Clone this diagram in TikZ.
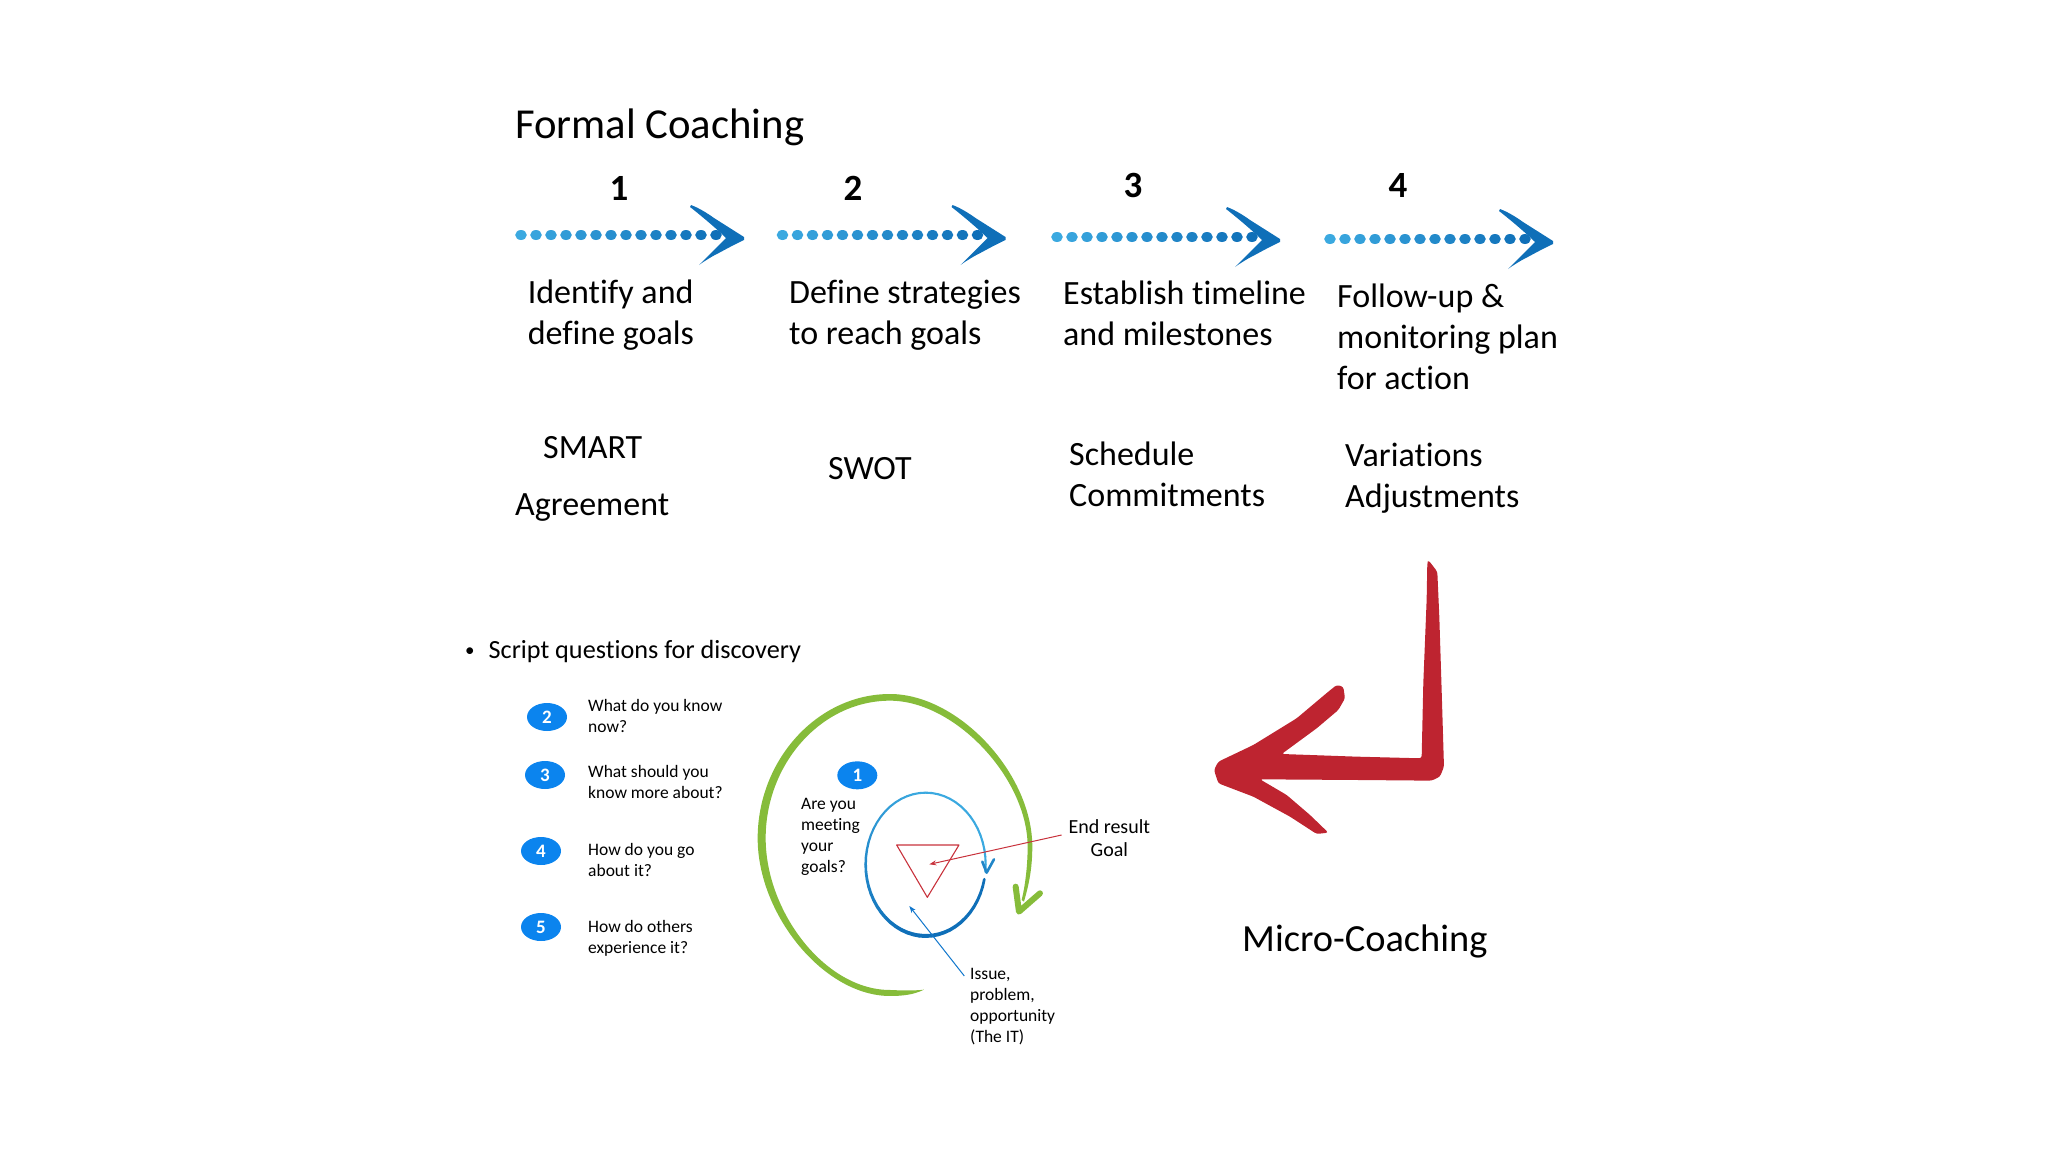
\documentclass[tikz,border=0pt]{standalone}
\usepackage{fontspec}
\setmainfont[Ligatures=NoCommon]{Carlito}
\usetikzlibrary{arrows.meta,shapes.geometric}
\definecolor{dotlight}{HTML}{3BA9E0}
\definecolor{dotdark}{HTML}{0F6FB8}
\definecolor{badge}{HTML}{0B84EE}
\definecolor{spiral}{HTML}{86BC3A}
\definecolor{bigred}{HTML}{BE2430}
\definecolor{thinred}{HTML}{C8323C}
\definecolor{thinblue}{HTML}{1277CC}
\tikzset{
  big/.style={anchor=base west,inner sep=0pt,align=left,font=\fontsize{34}{41}\selectfont},
  title/.style={anchor=base west,inner sep=0pt,font=\fontsize{42.7}{48}\selectfont},
  microtitle/.style={anchor=base west,inner sep=0pt,font=\fontsize{38.4}{48}\selectfont},
  stepnum/.style={anchor=base,inner sep=0pt,font=\fontsize{37}{44}\selectfont\bfseries},
  small/.style={anchor=base west,inner sep=0pt,align=left,font=\fontsize{17.5}{20.9}\selectfont},
  badgeshape/.style={ellipse,fill=badge,text=white,inner sep=0pt,minimum width=40pt,minimum height=28pt,font=\fontsize{19}{20}\selectfont\bfseries},
  flow/.pic={
    \foreach \i in {0,...,13}{
      \pgfmathsetmacro{\m}{100-\i*100/13}
      \fill[dotlight!\m!dotdark] (\i*15,0) ellipse (5.8 and 5);
    }
    \fill[dotdark] (170,-30) .. controls (178,-27) and (186,-22) .. (193,-17)
      -- (223,2) -- (223,5) .. controls (212,10) and (200,17) .. (192,21)
      .. controls (187,24) and (182,27) .. (178,30)
      .. controls (184,24) and (195,13) .. (205,3)
      .. controls (199,-3) and (192,-9) .. (185,-15)
      .. controls (179,-20) and (173,-25) .. (169,-28) -- cycle;
  }
}
\begin{document}
\begin{tikzpicture}[x=1pt,y=-1pt]
\useasboundingbox (0,0) rectangle (2048,1152);
% top row
\node[title] (heading) at (515,138) {Formal Coaching};
\node[stepnum] (n1) at (619,200.5) {1};
\node[stepnum] (n2) at (853,200) {2};
\node[stepnum] (n3) at (1133,197) {3};
\node[stepnum] (n4) at (1398,197) {4};
\pic at (521,235) {flow};
\pic at (782.5,235) {flow};
\pic at (1057,237) {flow};
\pic at (1330,239) {flow};
\node[big] (t1) at (527.6,344) {Identify and\\define goals};
\node[big] (t2) at (789,344) {Define strategies\\to reach goals};
\node[big] (t3) at (1063,345.5) {Establish timeline\\and milestones};
\node[big] (t4) at (1337,389.5) {Follow-up \&\\monitoring plan\\for action};
\node[big] (smart) at (543,458) {SMART};
\node[big] (agree) at (515,515) {Agreement};
\node[big] (swot) at (828,479.5) {SWOT};
\node[big] (sched) at (1069,506.5) {Schedule\\Commitments};
\node[big] (vari) at (1345,507.5) {Variations\\Adjustments};
% big red arrow
\begin{scope}[shift={(1190,550)},x=.3333pt,y=-.3333pt]
\fill[bigred,rounded corners=2.5pt] (715,30) -- (742,65) -- (748,200) -- (755,420) -- (762,650) -- (750,680) -- (725,692)
  -- (500,690) -- (210,688) -- (290,735) -- (360,795) -- (415,848) -- (380,852) -- (300,800) -- (190,740)
  -- (85,700) -- (72,660) -- (85,635) -- (190,585) -- (320,505) -- (415,425) -- (440,405) -- (460,410)
  -- (465,445) -- (445,480) -- (380,535) -- (275,612) -- (500,620) -- (695,625) -- (700,400) -- (710,150) -- (712,40) -- cycle;
\end{scope}
\node[microtitle] (micro) at (1242,951.5) {Micro-Coaching};
\node[anchor=base west,inner sep=0pt,font=\fontsize{26.2}{30}\selectfont] (script) at (465,658) {\raisebox{1.5pt}{\fontsize{19}{20}\selectfont •}\hspace{14pt}Script questions for discovery};
% list
\node[badgeshape] (b2) at (547,717) {2};
\node[badgeshape] (b3) at (545,775) {3};
\node[badgeshape] (b4) at (541,851) {4};
\node[badgeshape] (b5) at (541,927) {5};
\node[small] (q2) at (588,732) {What do you know\\now?};
\node[small] (q3) at (588,798) {What should you\\know more about?};
\node[small] (q4) at (588,876) {How do you go\\about it?};
\node[small] (q5) at (588,953.5) {How do others\\experience it?};
% spiral
\begin{scope}[shift={(720,680)},x=.3333pt,y=-.3333pt]
\fill[spiral] (612,929) .. controls (580,945) and (545,948) .. (510,948)
  .. controls (312,948) and (113,704) .. (113,475)
  .. controls (113,240) and (292,42) .. (510,42)
  .. controls (715,42) and (937,280) .. (937,500)
  .. controls (937,570) and (925,620) .. (912,665)
  -- (905,660) .. controls (915,620) and (923,560) .. (923,500)
  .. controls (923,295) and (705,62) .. (510,62)
  .. controls (305,62) and (137,250) .. (137,475)
  .. controls (137,695) and (315,930) .. (510,930)
  .. controls (550,932) and (590,932) .. (612,929) -- cycle;
\draw[spiral,line width=6pt,line cap=round,line join=round] (887,620) -- (897,695) -- (960,640);
% blue circle
\foreach \a in {12,18,...,360}{
  \pgfmathsetmacro{\m}{max(0,min(100,(\a-110)/1.5))}
  \pgfmathsetmacro{\w}{max(2.1,4-abs(\a-90)/60)}
  \draw[dotlight!\m!dotdark,line width=\w pt,line cap=round]
    ({617+180*cos(\a)},{553+215*sin(\a)}) -- ({617+180*cos(\a+6)},{553+215*sin(\a+6)});
}
\draw[dotlight!40!dotdark,line width=2.6pt,line cap=round,line join=round] (787,545) -- (800,578) -- (822,538);
% triangle
\draw[thinred,line width=1.1pt,line join=round] (530,495) -- (717,495) -- (622,652) -- cycle;
\coordinate (redtip) at (628,553);
\coordinate (bluetip) at (568,678);
\node[anchor=base,inner sep=0pt,align=center,font=\fontsize{20}{23.5}\selectfont] (endres) at (1168,531) {End result\\Goal};
\coordinate (redstart) at (1025,465);
\coordinate (bluestart) at (733,888);
\draw[thinred,line width=1pt,-{Stealth[length=7pt,width=5pt]}] (redstart) -- (redtip);
\draw[thinblue,line width=1pt,-{Stealth[length=7pt,width=5pt]}] (bluestart) -- (bluetip);
\node[badgeshape] (b1) at (412,286) {1};
\end{scope}
\node[small] (q1) at (801,872.5) {Are you\\meeting\\your\\goals?};
\node[small] (issue) at (970,1042.5) {Issue,\\problem,\\opportunity\\(The IT)};
\end{tikzpicture}
\end{document}
